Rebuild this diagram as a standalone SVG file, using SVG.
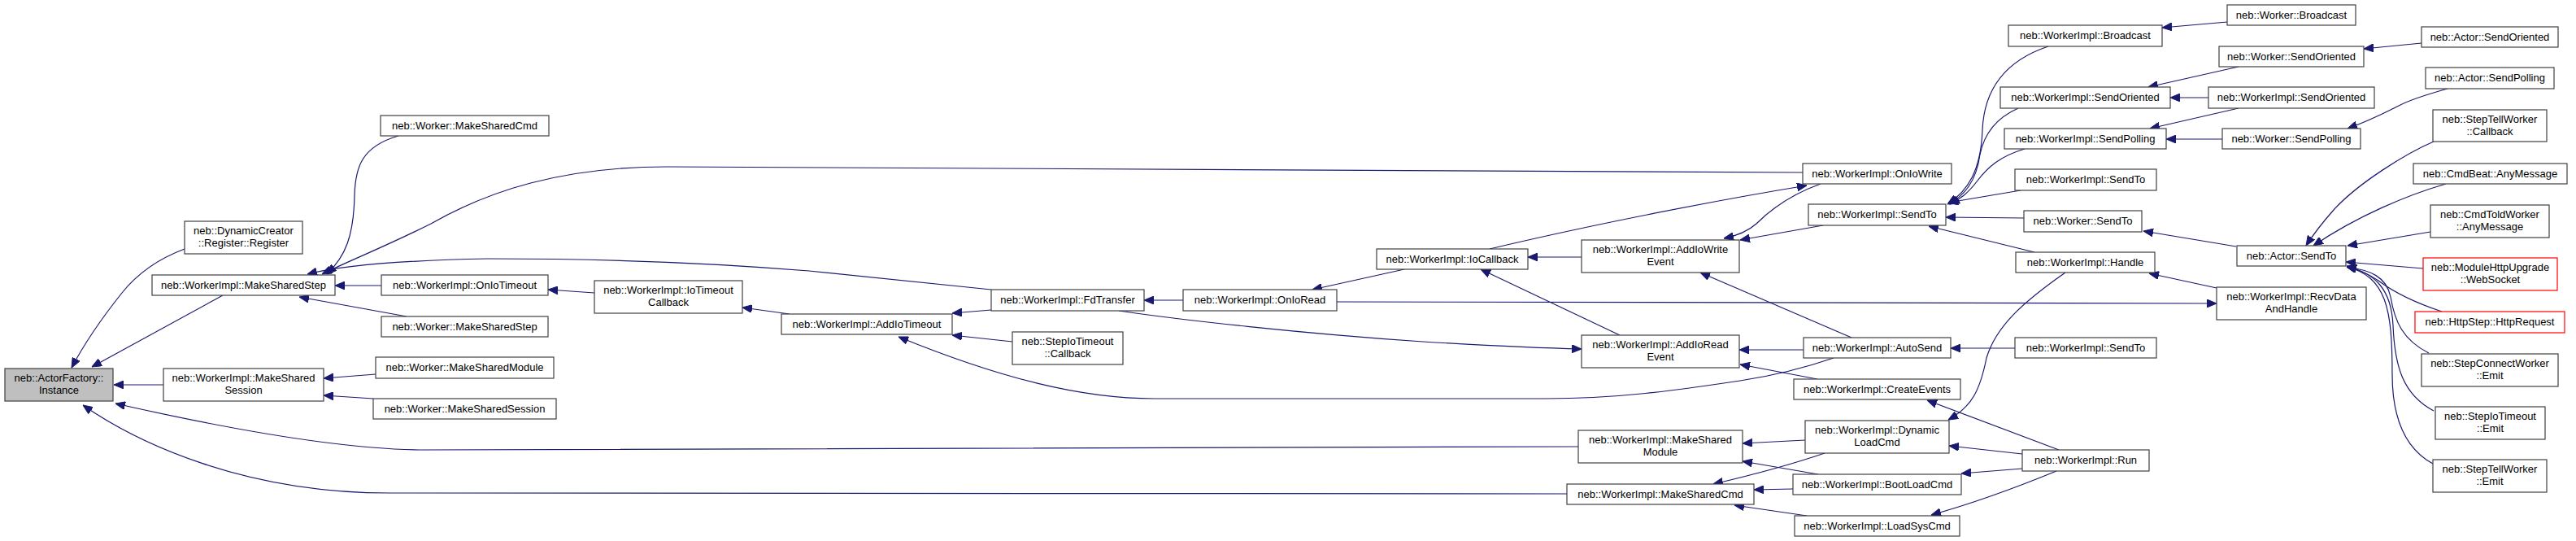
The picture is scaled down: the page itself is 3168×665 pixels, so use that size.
<svg xmlns="http://www.w3.org/2000/svg" width="3168" height="665" viewBox="0 0 3168 665">
<style>
.node rect{fill:#ffffff;stroke:#404040;stroke-width:1.2}
.node.start rect{fill:#bfbfbf}
.node.red rect{stroke:#ff0000}
.node text{font-family:"Liberation Sans",Arial,Helvetica,sans-serif;font-size:13px;fill:#000;text-anchor:middle}
.edges path{fill:none;stroke:#191970;stroke-width:1.2;marker-end:url(#ah)}
</style>
<defs>
<marker id="ah" markerUnits="userSpaceOnUse" viewBox="0 0 12 10" markerWidth="12" markerHeight="10" refX="12" refY="5" orient="auto">
<path d="M0,0 L12,5 L0,10 z" fill="#191970" stroke="#191970"/>
</marker>
</defs>
<rect x="0" y="0" width="3168" height="665" fill="#ffffff"/>
<g class="edges">
<path d="M227,306 C195,318 170,335 150,360 C130,385 105,420 88,452"/>
<path d="M274,363 L113,451"/>
<path d="M201,473 L140,473"/>
<path d="M1941,549 L523,553 C420,553 270,525 142,496"/>
<path d="M1927,607 L480,606 C300,606 170,545 102,498"/>
<path d="M490,167 C445,180 437,205 436,240 C435,290 425,315 402,337"/>
<path d="M2217,212 C2000,210 1500,205 820,205 C690,205 600,235 530,275 C470,305 430,320 396,337"/>
<path d="M1219,356 L995,333 C850,321 700,318 600,318 C500,320 420,326 378,337"/>
<path d="M469,351 L412,351"/>
<path d="M500,389 L368,365"/>
<path d="M731,360 L674,356"/>
<path d="M971,386 L913,378"/>
<path d="M1219,381 L1171,385"/>
<path d="M1245,420 L1171,412"/>
<path d="M2255,440 C2220,452 2180,462 2140,468 C2060,480 1990,490 1900,490 L1420,490 C1330,490 1230,465 1105,414"/>
<path d="M1455,369 L1407,369"/>
<path d="M1376,382 C1450,393 1600,410 1750,420 C1850,426 1900,428 1945,429"/>
<path d="M1727,331 L1614,356"/>
<path d="M1945,316 L1879,316"/>
<path d="M1992,412 L1821,331"/>
<path d="M1832,306 C1950,278 2100,248 2222,228"/>
<path d="M2239,226 C2200,240 2175,260 2160,275 C2150,284 2135,290 2120,293"/>
<path d="M2242,277 L2140,295"/>
<path d="M2277,415 L2091,335"/>
<path d="M2218,430 L2139,430"/>
<path d="M2235,466 L2140,448"/>
<path d="M1644,371 L2726,373"/>
<path d="M2519,57 C2465,75 2440,110 2438,160 C2436,210 2420,235 2395,251"/>
<path d="M2482,133 C2455,145 2440,165 2435,190 C2430,225 2415,240 2397,251"/>
<path d="M2490,183 C2460,192 2445,205 2432,222 C2420,238 2410,245 2398,251"/>
<path d="M2485,234 L2396,249"/>
<path d="M2489,268 L2393,267"/>
<path d="M2502,310 L2372,278"/>
<path d="M2739,27 L2659,34"/>
<path d="M2753,82 L2642,107"/>
<path d="M2716,120 L2669,120"/>
<path d="M2753,133 L2644,158"/>
<path d="M2733,171 L2664,171"/>
<path d="M2978,53 L2907,60"/>
<path d="M3010,109 C2985,116 2965,122 2950,130 C2930,140 2915,148 2887,158"/>
<path d="M2726,354 L2643,336"/>
<path d="M2750,303 L2636,284"/>
<path d="M2540,335 C2490,370 2455,400 2443,440 C2435,480 2425,500 2396,516"/>
<path d="M2993,174 C2960,188 2900,225 2870,258 C2855,275 2845,288 2836,302"/>
<path d="M3008,226 C2960,240 2900,265 2845,302"/>
<path d="M2989,285 L2887,302"/>
<path d="M2980,330 L2885,322"/>
<path d="M3003,383 C2970,372 2945,360 2925,345 C2910,335 2900,331 2886,327"/>
<path d="M2987,434 C2955,418 2945,395 2940,365 C2935,340 2915,332 2886,328"/>
<path d="M2993,505 C2955,485 2945,450 2943,400 C2941,355 2920,335 2886,328"/>
<path d="M2992,570 C2955,550 2942,510 2942,460 C2942,380 2935,340 2886,328"/>
<path d="M2478,428 L2399,428"/>
<path d="M2532,553 L2370,492"/>
<path d="M2487,558 L2397,548"/>
<path d="M2487,576 L2412,582"/>
<path d="M2529,579 C2490,595 2440,615 2375,633"/>
<path d="M2220,541 L2143,545"/>
<path d="M2236,583 L2143,567"/>
<path d="M2244,557 C2200,572 2150,585 2107,595"/>
<path d="M2205,601 L2157,602"/>
<path d="M2222,634 L2133,621"/>
<path d="M462,460 L398,465"/>
<path d="M459,490 L398,486"/>
</g>
<g id="n_instance" class="node start"><rect x="6" y="453" width="133" height="40"/><text x="72.5" y="469">neb::ActorFactory::</text><text x="72.5" y="484">Instance</text></g>
<g id="n_register" class="node"><rect x="227" y="272" width="145" height="40"/><text x="299.5" y="288">neb::DynamicCreator</text><text x="299.5" y="303">::Register::Register</text></g>
<g id="n_w_mscmd" class="node"><rect x="468" y="142" width="207" height="25"/><text x="571.5" y="159">neb::Worker::MakeSharedCmd</text></g>
<g id="n_wi_msstep" class="node"><rect x="187" y="338" width="225" height="25"/><text x="299.5" y="355">neb::WorkerImpl::MakeSharedStep</text></g>
<g id="n_wi_oniotimeout" class="node"><rect x="469" y="338" width="205" height="25"/><text x="571.5" y="355">neb::WorkerImpl::OnIoTimeout</text></g>
<g id="n_w_msstep" class="node"><rect x="469" y="389" width="205" height="25"/><text x="571.5" y="406">neb::Worker::MakeSharedStep</text></g>
<g id="n_w_msmodule" class="node"><rect x="462" y="439" width="219" height="26"/><text x="571.5" y="456">neb::Worker::MakeSharedModule</text></g>
<g id="n_w_mssession" class="node"><rect x="459" y="490" width="225" height="25"/><text x="571.5" y="507">neb::Worker::MakeSharedSession</text></g>
<g id="n_wi_mssession" class="node"><rect x="201" y="453" width="197" height="40"/><text x="299.5" y="469">neb::WorkerImpl::MakeShared</text><text x="299.5" y="484">Session</text></g>
<g id="n_wi_iotimeoutcb" class="node"><rect x="731" y="345" width="182" height="40"/><text x="822" y="361">neb::WorkerImpl::IoTimeout</text><text x="822" y="376">Callback</text></g>
<g id="n_wi_addiotimeout" class="node"><rect x="961" y="386" width="210" height="25"/><text x="1066" y="403">neb::WorkerImpl::AddIoTimeout</text></g>
<g id="n_wi_fdtransfer" class="node"><rect x="1219" y="356" width="188" height="26"/><text x="1313" y="373">neb::WorkerImpl::FdTransfer</text></g>
<g id="n_stepio_cb" class="node"><rect x="1245" y="408" width="136" height="40"/><text x="1313" y="424">neb::StepIoTimeout</text><text x="1313" y="439">::Callback</text></g>
<g id="n_wi_onioread" class="node"><rect x="1455" y="356" width="189" height="26"/><text x="1549.5" y="373">neb::WorkerImpl::OnIoRead</text></g>
<g id="n_wi_iocallback" class="node"><rect x="1693" y="306" width="186" height="25"/><text x="1786" y="323">neb::WorkerImpl::IoCallback</text></g>
<g id="n_wi_addiowrite" class="node"><rect x="1945" y="295" width="194" height="40"/><text x="2042" y="311">neb::WorkerImpl::AddIoWrite</text><text x="2042" y="326">Event</text></g>
<g id="n_wi_addioread" class="node"><rect x="1945" y="412" width="194" height="40"/><text x="2042" y="428">neb::WorkerImpl::AddIoRead</text><text x="2042" y="443">Event</text></g>
<g id="n_wi_msmodule" class="node"><rect x="1941" y="529" width="202" height="40"/><text x="2042" y="545">neb::WorkerImpl::MakeShared</text><text x="2042" y="560">Module</text></g>
<g id="n_wi_mscmd" class="node"><rect x="1927" y="595" width="230" height="25"/><text x="2042" y="612">neb::WorkerImpl::MakeSharedCmd</text></g>
<g id="n_wi_oniowrite" class="node"><rect x="2217" y="201" width="183" height="25"/><text x="2308.5" y="218">neb::WorkerImpl::OnIoWrite</text></g>
<g id="n_wi_sendto" class="node"><rect x="2224" y="251" width="169" height="26"/><text x="2308.5" y="268">neb::WorkerImpl::SendTo</text></g>
<g id="n_wi_autosend" class="node"><rect x="2218" y="415" width="181" height="25"/><text x="2308.5" y="432">neb::WorkerImpl::AutoSend</text></g>
<g id="n_wi_createevents" class="node"><rect x="2206" y="466" width="205" height="25"/><text x="2308.5" y="483">neb::WorkerImpl::CreateEvents</text></g>
<g id="n_wi_dynload" class="node"><rect x="2220" y="517" width="177" height="40"/><text x="2308.5" y="533">neb::WorkerImpl::Dynamic</text><text x="2308.5" y="548">LoadCmd</text></g>
<g id="n_wi_bootload" class="node"><rect x="2205" y="583" width="207" height="25"/><text x="2308.5" y="600">neb::WorkerImpl::BootLoadCmd</text></g>
<g id="n_wi_loadsys" class="node"><rect x="2207" y="634" width="203" height="25"/><text x="2308.5" y="651">neb::WorkerImpl::LoadSysCmd</text></g>
<g id="n_wi_broadcast" class="node"><rect x="2470" y="31" width="189" height="26"/><text x="2564.5" y="48">neb::WorkerImpl::Broadcast</text></g>
<g id="n_wi_sendoriented" class="node"><rect x="2460" y="107" width="209" height="26"/><text x="2564.5" y="124">neb::WorkerImpl::SendOriented</text></g>
<g id="n_wi_sendpolling" class="node"><rect x="2465" y="158" width="199" height="25"/><text x="2564.5" y="175">neb::WorkerImpl::SendPolling</text></g>
<g id="n_wi_sendto2" class="node"><rect x="2478" y="208" width="174" height="26"/><text x="2565" y="225">neb::WorkerImpl::SendTo</text></g>
<g id="n_w_sendto" class="node"><rect x="2489" y="259" width="145" height="26"/><text x="2561.5" y="276">neb::Worker::SendTo</text></g>
<g id="n_wi_handle" class="node"><rect x="2479" y="310" width="171" height="25"/><text x="2564.5" y="327">neb::WorkerImpl::Handle</text></g>
<g id="n_wi_sendto3" class="node"><rect x="2478" y="415" width="174" height="25"/><text x="2565" y="432">neb::WorkerImpl::SendTo</text></g>
<g id="n_wi_run" class="node"><rect x="2487" y="553" width="156" height="26"/><text x="2565" y="570">neb::WorkerImpl::Run</text></g>
<g id="n_w_broadcast" class="node"><rect x="2739" y="6" width="158" height="25"/><text x="2818" y="23">neb::Worker::Broadcast</text></g>
<g id="n_w_sendoriented" class="node"><rect x="2729" y="57" width="178" height="25"/><text x="2818" y="74">neb::Worker::SendOriented</text></g>
<g id="n_wi_sendoriented2" class="node"><rect x="2716" y="107" width="204" height="26"/><text x="2818" y="124">neb::WorkerImpl::SendOriented</text></g>
<g id="n_w_sendpolling" class="node"><rect x="2733" y="158" width="170" height="25"/><text x="2818" y="175">neb::Worker::SendPolling</text></g>
<g id="n_a_sendto" class="node"><rect x="2751" y="302" width="134" height="25"/><text x="2818" y="319">neb::Actor::SendTo</text></g>
<g id="n_wi_recvdata" class="node"><rect x="2726" y="353" width="184" height="40"/><text x="2818" y="369">neb::WorkerImpl::RecvData</text><text x="2818" y="384">AndHandle</text></g>
<g id="n_a_sendoriented" class="node"><rect x="2978" y="33" width="168" height="25"/><text x="3062" y="50">neb::Actor::SendOriented</text></g>
<g id="n_a_sendpolling" class="node"><rect x="2983" y="83" width="158" height="26"/><text x="3062" y="100">neb::Actor::SendPolling</text></g>
<g id="n_steptell_cb" class="node"><rect x="2992" y="135" width="140" height="39"/><text x="3062" y="151">neb::StepTellWorker</text><text x="3062" y="166">::Callback</text></g>
<g id="n_cmdbeat" class="node"><rect x="2968" y="201" width="189" height="25"/><text x="3062.5" y="218">neb::CmdBeat::AnyMessage</text></g>
<g id="n_cmdtold" class="node"><rect x="2989" y="252" width="146" height="40"/><text x="3062" y="268">neb::CmdToldWorker</text><text x="3062" y="283">::AnyMessage</text></g>
<g id="n_modhttp" class="node red"><rect x="2980" y="317" width="165" height="40"/><text x="3062.5" y="333">neb::ModuleHttpUpgrade</text><text x="3062.5" y="348">::WebSocket</text></g>
<g id="n_httpstep" class="node red"><rect x="2970" y="383" width="184" height="26"/><text x="3062" y="400">neb::HttpStep::HttpRequest</text></g>
<g id="n_stepconnect" class="node"><rect x="2978" y="435" width="168" height="40"/><text x="3062" y="451">neb::StepConnectWorker</text><text x="3062" y="466">::Emit</text></g>
<g id="n_stepio_emit" class="node"><rect x="2995" y="500" width="135" height="40"/><text x="3062.5" y="516">neb::StepIoTimeout</text><text x="3062.5" y="531">::Emit</text></g>
<g id="n_steptell_emit" class="node"><rect x="2992" y="565" width="140" height="40"/><text x="3062" y="581">neb::StepTellWorker</text><text x="3062" y="596">::Emit</text></g>
</svg>
